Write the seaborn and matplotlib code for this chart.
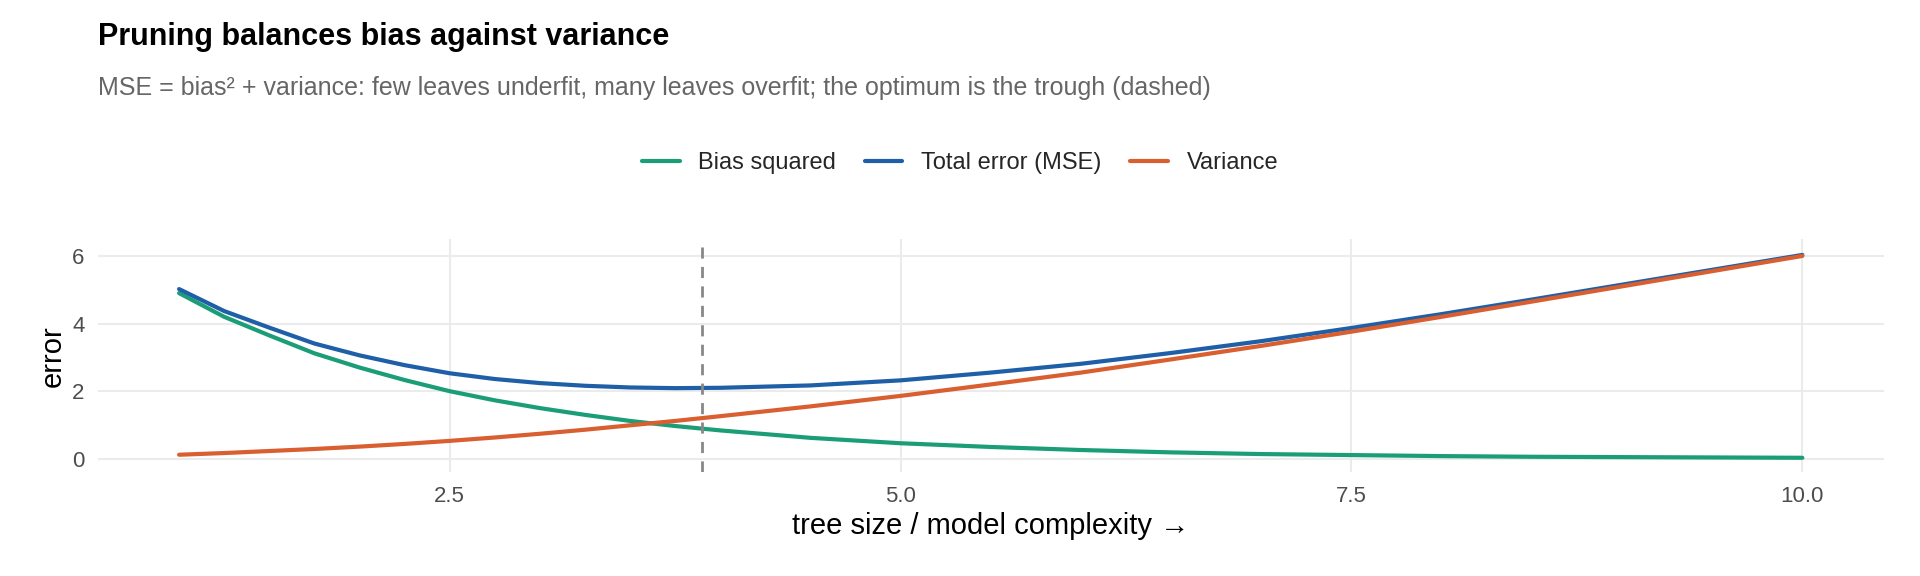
import matplotlib
matplotlib.use("Agg")
import matplotlib.pyplot as plt
import seaborn as sns
import pandas as pd

x = [1, 1.25, 1.5, 1.75, 2, 2.25, 2.5, 2.75, 3, 3.25, 3.5, 3.75, 4,
     4.5, 5, 5.5, 6, 6.5, 7, 7.5, 8, 8.5, 9, 9.5, 10]
bias_sq = [4.9, 4.2, 3.65, 3.12, 2.7, 2.33, 2.0, 1.73, 1.5, 1.3, 1.12, 0.97, 0.84,
           0.62, 0.46, 0.35, 0.26, 0.19, 0.14, 0.11, 0.08, 0.06, 0.05, 0.04, 0.03]
variance = [0.12, 0.17, 0.23, 0.29, 0.36, 0.44, 0.53, 0.63, 0.74, 0.86, 0.99, 1.12, 1.26,
            1.55, 1.86, 2.2, 2.55, 2.94, 3.34, 3.76, 4.2, 4.65, 5.1, 5.55, 6.0]
total = [b + v for b, v in zip(bias_sq, variance)]
optimum = 3.9

series = ["Bias squared", "Total error (MSE)", "Variance"]
colors = ["#1b9e77", "#1f5fa8", "#d95f30"]

df = pd.concat([
    pd.DataFrame({"x": x, "y": bias_sq, "s": series[0]}),
    pd.DataFrame({"x": x, "y": total, "s": series[1]}),
    pd.DataFrame({"x": x, "y": variance, "s": series[2]}),
])

sns.set_theme(style="whitegrid")
plt.rcParams["font.family"] = ["Liberation Sans", "DejaVu Sans"]
fig = plt.figure(figsize=(19.2, 5.76), dpi=100)
ax = fig.add_axes([0.051, 0.18, 0.93, 0.405])
sns.lineplot(data=df, x="x", y="y", hue="s", palette=dict(zip(series, colors)),
             linewidth=3, ax=ax, legend=False)
ax.axvline(optimum, color="#888888", linestyle=(0, (4, 3)), linewidth=2)
ax.set_xlim(0.55, 10.45)
ax.set_ylim(-0.4, 6.5)
ax.set_xticks([2.5, 5.0, 7.5, 10.0])
ax.set_xticklabels(["2.5", "5.0", "7.5", "10.0"])
ax.set_yticks([0, 2, 4, 6])
ax.tick_params(labelsize=16, colors="#4d4d4d")
ax.grid(color="#ebebeb", linewidth=1.5)
for s in ax.spines.values():
    s.set_visible(False)
ax.set_xlabel("tree size / model complexity \u2192", fontsize=21, color="black")
ax.set_ylabel("error", fontsize=21, color="black")

handles = [plt.Line2D([], [], color=c, linewidth=3) for c in colors]
fig.legend(handles, series, loc="center", bbox_to_anchor=(0.5, 0.717), ncol=3,
           frameon=False, fontsize=17, handlelength=1.6, columnspacing=1.2)
fig.text(0.051, 0.935, "Pruning balances bias against variance", fontsize=22,
         fontweight="bold", va="center", color="black")
fig.text(0.051, 0.847, "MSE = bias\u00b2 + variance: few leaves underfit, many leaves overfit; the optimum is the trough (dashed)",
         fontsize=18, color="#666666", va="center")
fig.savefig("out.png", dpi=100)
